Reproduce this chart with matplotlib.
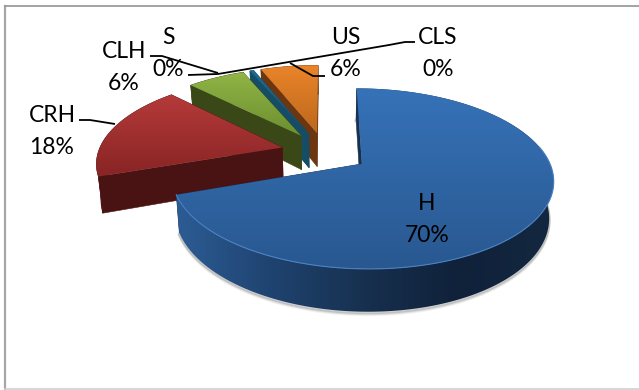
import numpy as np
import matplotlib
matplotlib.use('Agg')
from matplotlib import pyplot as plt
from matplotlib.colors import LinearSegmentedColormap
from matplotlib.patches import Polygon

labels = ['H', 'CRH', 'CLH', 'S', 'US', 'CLS']
values = [69.6, 18.0, 6.0, 0.4, 6.0, 0.0]
shown_pct = ['70%', '18%', '6%', '0%', '6%', '0%']

top_colors = {
    'H': ('#3672b8', '#295890'),
    'CRH': ('#b53a3a', '#882424'),
    'CLH': ('#90b445', '#6c8f30'),
    'S': ('#1f6a90', '#17506f'),
    'US': ('#ea842a', '#bc681c'),
}
wall_colors = {
    'H': '#17304f',
    'CRH': '#4a1313',
    'CLH': '#3a4818',
    'S': '#154c66',
    'US': '#6b3610',
}
# side of the big slice, left to right
h_rim_colors = ['#2c5c94', '#1f4370', '#17304f', '#10213a', '#132840']

# projection of the tilted disc, pixel units
CX, CY = 325, 152
RX, RY = 184, 84
PERSP = 0.16
DEPTH = 35
EXPLODE = 0.24


def project(u, v, z=0.0):
    s = 1 / (1 - PERSP * v)
    return CX + RX * u * s * (1 - 0.02 * z), CY + RY * v * s + DEPTH * s * z


def gradient_fill(ax, poly_xy, colors, zorder, horizontal=False):
    xs, ys = poly_xy[:, 0], poly_xy[:, 1]
    cmap = LinearSegmentedColormap.from_list('g', colors)
    ramp = np.linspace(0, 1, 128)
    ramp = ramp.reshape(1, -1) if horizontal else ramp.reshape(-1, 1)
    im = ax.imshow(ramp, cmap=cmap, aspect='auto',
                   extent=(xs.min(), xs.max(), ys.max(), ys.min()),
                   interpolation='bilinear', zorder=zorder)
    clip = Polygon(poly_xy, closed=True, transform=ax.transData, fc='none', ec='none')
    ax.add_patch(clip)
    im.set_clip_path(clip)


fig = plt.figure(figsize=(6.39, 3.90), dpi=100)
ax = fig.add_axes([0, 0, 1, 1])
ax.axis('off')

# frame
ax.plot([5, 5], [6, 389], color='#a6a6a6', lw=1.6, zorder=1)
ax.plot([5, 639], [6, 6], color='#9c9c9c', lw=1.3, zorder=1)
ax.plot([5, 639], [389, 389], color='#d0d0d0', lw=1.2, zorder=1)

total = sum(values)
starts = np.cumsum([0] + values[:-1]) / total * 360
sweeps = np.array(values) / total * 360

# far slices first, the big one last
order = [4, 3, 2, 1, 0]
for n, i in enumerate(order):
    name = labels[i]
    a0, sweep = starts[i], sweeps[i]
    mid = np.radians(a0 + sweep / 2)
    du, dv = EXPLODE * np.sin(mid), -EXPLODE * np.cos(mid)
    ang = np.radians(np.linspace(a0, a0 + sweep, max(int(sweep * 2), 6)))
    u = du + np.sin(ang)
    v = dv - np.cos(ang)
    z0 = 10 + n * 5

    top = np.column_stack(project(np.r_[du, u], np.r_[dv, v]))
    rim_up = np.column_stack(project(u, v))
    rim_low = np.column_stack(project(u, v, 1.0))

    # soft shadow below the side
    if name == 'H':
        for off, alpha in [(3.0, 0.10), (2.0, 0.18), (1.0, 0.28)]:
            ax.plot(rim_low[:, 0], rim_low[:, 1] + off, color='#777777', alpha=alpha, lw=2,
                    zorder=z0 - 1)

    # radial walls
    for end in (0, -1):
        wall = [project(du, dv), project(u[end], v[end]),
                project(u[end], v[end], 1.0), project(du, dv, 1.0)]
        ax.add_patch(Polygon(wall, closed=True, fc=wall_colors[name],
                             ec=wall_colors[name], lw=0.4, zorder=z0))

    # outer rim
    rim = np.vstack([rim_up, rim_low[::-1]])
    if name == 'H':
        gradient_fill(ax, rim, h_rim_colors, z0 + 1, horizontal=True)
    else:
        ax.add_patch(Polygon(rim, closed=True, fc=wall_colors[name],
                             ec=wall_colors[name], lw=0.4, zorder=z0 + 1))

    gradient_fill(ax, top, top_colors[name], z0 + 2)
    if name == 'H':
        near = np.cos(ang) < 0.2
        edge = np.column_stack(project(u[near], v[near]))
        ax.plot(edge[:, 0], edge[:, 1], color='#4a80c2', lw=0.8, zorder=z0 + 3)

# leader lines
leaders = [
    ([79, 90, 115], [120, 120, 124]),
    ([150, 162, 218], [56, 56, 73]),
    ([188, 218, 389, 405, 415], [75, 74, 45, 42, 42]),
    ([290, 313, 325], [63, 76, 76]),
]
for xs, ys in leaders:
    ax.plot(xs, ys, color='black', lw=1.3, zorder=40, solid_capstyle='butt')

# labels, name over share
label_pos = {'H': (427, 203), 'CRH': (52, 115), 'CLH': (124, 51),
             'S': (168, 37), 'US': (346, 37), 'CLS': (438, 37)}
for name, pct in zip(labels, shown_pct):
    x, y = label_pos[name]
    ax.text(x, y, name, ha='center', va='center', fontsize=16.5, family='Lato',
            color='black', zorder=50)
    ax.text(x, y + 32.5, pct, ha='center', va='center', fontsize=16.5, family='Lato',
            color='black', zorder=50)

ax.set_xlim(0, 639)
ax.set_ylim(390, 0)
fig.savefig('out.png', dpi=100)
